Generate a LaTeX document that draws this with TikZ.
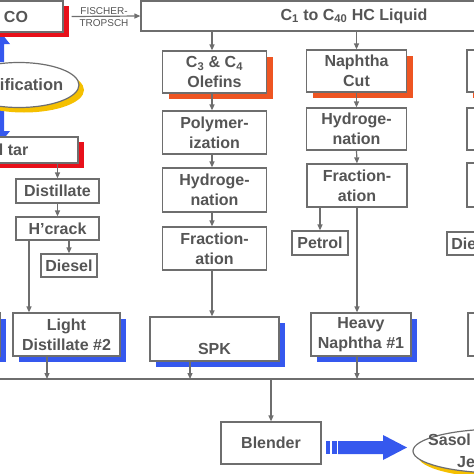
\documentclass[tikz,border=0pt]{standalone}
\usepackage{fontspec}
\setmainfont{Liberation Sans}
\usetikzlibrary{shapes.geometric,shadows,arrows.meta,calc}
\definecolor{bgray}{HTML}{6E6E6E}
\definecolor{tgray}{HTML}{555555}
\definecolor{sred}{HTML}{E8101A}
\definecolor{sorange}{HTML}{EE5522}
\definecolor{sblue}{HTML}{3558EE}
\definecolor{syellow}{HTML}{F5C000}
\begin{document}
\begin{tikzpicture}[x=1pt,y=-1pt,
  box/.style={draw=bgray,line width=1.2pt,fill=white,inner sep=0pt,align=center,text=tgray,font=\bfseries\fontsize{16}{20}\selectfont},
  sz/.style 2 args={minimum width=#1pt,minimum height=#2pt},
  shad/.style={drop shadow={shadow xshift=6pt,shadow yshift=-6pt,fill=#1,opacity=1}},
  rshad/.style={drop shadow={shadow xshift=6pt,shadow yshift=-5pt,fill=sred,opacity=1}},
  yshad/.style={drop shadow={shadow xshift=5pt,shadow yshift=-5pt,fill=syellow,opacity=1}},
  oval/.style={ellipse,draw=bgray,line width=1.2pt,fill=white,inner sep=0pt,text=tgray,font=\bfseries\fontsize{16}{20}\selectfont},
  arr/.style={draw=bgray,line width=1.2pt,-{Triangle[length=6pt,width=5pt]}},
  plain/.style={draw=bgray,line width=1.2pt},
  lbl/.style={text=tgray,inner sep=0pt,font=\bfseries\fontsize{16}{20}\selectfont},
  small/.style={text=tgray,inner sep=0pt,align=center,font=\fontsize{10}{12.5}\selectfont}
]
\useasboundingbox (0,0) rectangle (474,474);
\clip (0,0) rectangle (474,474);

% blue thick arrows beside gasification
\fill[sblue] (-16,62) -- (-16,44) -- (-22,44) -- (-6,24) -- (10,44) -- (4,44) -- (4,62) -- cycle;
\fill[sblue] (-16,107) -- (-16,131) -- (-22,131) -- (-6,151) -- (10,131) -- (4,131) -- (4,107) -- cycle;

% top row
\node[box,sz={94}{31},rshad] (co) at (16,16.5) {CO};
\node[box,sz={426}{30}] (c1) at (354,16) {C\textsubscript{1} to C\textsubscript{40} HC Liquid};
\node[small] (ft) at (104,17) {FISCHER-\\TROPSCH};

% gasification
\node[oval,yshad,minimum width=120pt,minimum height=45pt] (gas) at (19,85) {\makebox[0pt]{\fontsize{16.5}{20}\selectfont Gasification\hspace{6pt}}};
\node[box,sz={159}{26},rshad] (tar) at (-1.5,150) {Coal tar};

% left column
\node[box,sz={83}{24}] (dist) at (57.5,191) {Distillate};
\node[box,sz={83}{23}] (hc) at (57.5,228.5) {H’crack};
\node[box,sz={56}{23}] (dsl) at (69,265.5) {Diesel};
\node[box,sz={107}{43},shad=sblue] (ld) at (66.5,334.5) {Light\\Distillate \#2};
\node[box,sz={100}{43},shad=sblue] (lx) at (-50,334.5) {};

% column 2
\node[box,sz={104}{42},shad=sorange] (ole) at (214.5,72) {C\textsubscript{3} \& C\textsubscript{4}\\Olefins};
\node[box,sz={104}{43}] (poly) at (214.5,132.5) {Polymer-\\ization};
\node[box,sz={104}{44}] (hyd2) at (214.5,190) {Hydroge-\\nation};
\node[box,sz={104}{43}] (fr2) at (214.5,248.5) {Fraction-\\ation};
\node[box,sz={129}{44},shad=sblue] (spk) at (214.5,339) {\vphantom{Xy}\\SPK};

% column 3
\node[box,sz={100}{42},shad=sorange] (nc) at (356.5,71) {Naphtha\\Cut};
\node[box,sz={100}{42}] (hyd3) at (356.5,129) {Hydroge-\\nation};
\node[box,sz={100}{43}] (fr3) at (357,185.5) {Fraction-\\ation};
\node[box,sz={56}{24}] (pet) at (320,243) {Petrol};
\node[box,sz={100}{43},shad=sblue] (hn) at (361,334.5) {Heavy\\Naphtha \#1};

% column 4 (clipped)
\node[box,sz={100}{42},shad=sorange] (r1) at (517,71) {};
\node[box,sz={100}{42}] (r2) at (517,129) {};
\node[box,sz={100}{44}] (r3) at (517,185) {};
\node[box,sz={56}{23}] (rd) at (475,243.5) {Diesel};
\node[box,sz={100}{43},shad=sblue] (r4) at (518,334.5) {};

% blender and product
\node[box,sz={100}{42}] (bl) at (271,443) {Blender};
\node[oval,yshad,minimum width=174pt,minimum height=44pt] (sj) at (500,451) {};
\node[lbl,anchor=west] (sjA) at (428,440) {Sasol};
\node[lbl,anchor=west] (sjB) at (457,462) {Jet};

% bus
\coordinate (busL) at (-5,379);
\coordinate (busR) at (480,379);
\draw[plain] (busL) -- (busR);

% connectors
\draw[arr] ([xshift=8pt]co.east) -- (c1.west);
\draw[arr] ([xshift=-2.5pt]ole.north |- c1.south) -- ([xshift=-2.5pt]ole.north);
\draw[arr] (nc.north |- c1.south) -- (nc.north);
\draw[arr] ([xshift=-2.5pt]ole.south) -- ([xshift=-2.5pt]poly.north);
\draw[arr] ([xshift=-2.5pt]poly.south) -- ([xshift=-2.5pt]hyd2.north);
\draw[arr] ([xshift=-2.5pt]hyd2.south) -- ([xshift=-2.5pt]fr2.north);
\draw[arr] ([xshift=-2.5pt]fr2.south) -- ([xshift=-2.5pt]spk.north);
\draw[arr] (nc.south) -- (hyd3.north);
\draw[arr] (hyd3.south) -- (fr3.north);
\draw[arr] (fr3.south -| pet.north) -- (pet.north);
\draw[arr] (fr3.south) -- (fr3.south |- hn.north);
\draw[arr] (tar.south -| dist.north) -- (dist.north);
\draw[arr] (dist.south) -- (hc.north);
\draw[arr] (hc.south -| dsl.north) -- (dsl.north);
\draw[arr] ([xshift=-28.5pt]hc.south) -- ([xshift=-28.5pt]hc.south |- ld.north);
\draw[arr] ([xshift=-19.5pt]ld.south) -- ([xshift=-19.5pt]ld.south |- busL);
\draw[arr] ([xshift=-24.5pt]spk.south) -- ([xshift=-24.5pt]spk.south |- busL);
\draw[arr] ([xshift=-4pt]hn.south) -- ([xshift=-4pt]hn.south |- busL);
\draw[arr] (bl.north |- busL) -- (bl.north);

% big blue arrow blender -> product
\fill[sblue] (326,441) rectangle (329.5,454);
\fill[sblue] (331.5,441) rectangle (336.5,454);
\fill[sblue] (338,441) -- (383,441) -- (383,435) -- (407,447.5) -- (383,460) -- (383,454) -- (338,454) -- cycle;
\end{tikzpicture}
\end{document}
